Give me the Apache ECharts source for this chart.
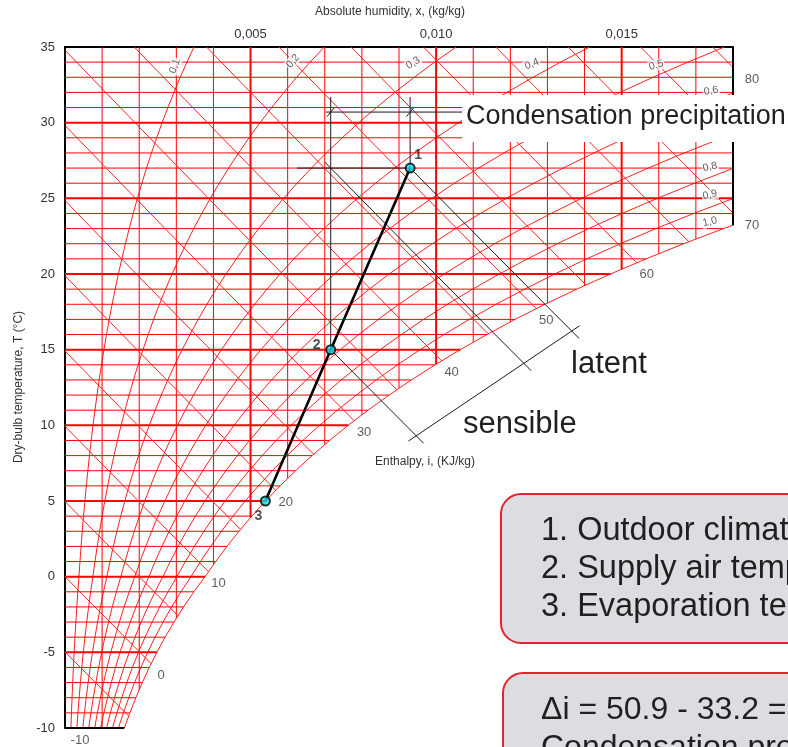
<!DOCTYPE html>
<html>
<head>
<meta charset="utf-8">
<script src="https://cdn.jsdelivr.net/npm/echarts@6/dist/echarts.min.js"></script>
<style>
  html, body { margin: 0; padding: 0; background: #fff; }
  #chart { width: 788px; height: 747px; }
</style>
</head>
<body>
<div id="chart"></div>
<script>
// ---- Psychrometric data ----------------------------------------------------
// Saturation vapour pressure (Pa) from -10 °C to 35 °C in 1 °C steps (over ice below 0 °C)
const SAT_T0 = -10;
const satPressure = [
  259.9, 284.1, 310.2, 338.3, 368.6, 401.7, 437.5, 476.2, 517.7, 562.5,
  611.2, 657.1, 705.9, 757.9, 813.5, 872.6, 935.4, 1002, 1073, 1148,
  1228, 1313, 1403, 1498, 1599, 1706, 1819, 1938, 2064, 2198,
  2339, 2488, 2645, 2810, 2985, 3169, 3363, 3567, 3782, 4008,
  4246, 4496, 4759, 5034, 5324, 5628
];
const P_ATM = 101325;

// Axis ranges and tick labels
const tempMin = -10, tempMax = 35;
const humMin = 0, humMax = 0.018;
const xTickValues = [0.005, 0.010, 0.015];
const xTickLabels = ['0,005', '0,010', '0,015'];

// Grid families
const gridTemps = [-9,-8,-7,-6,-5,-4,-3,-2,-1,0,1,2,3,4,5,6,7,8,9,10,11,12,13,14,15,16,17,18,19,20,21,22,23,24,25,26,27,28,29,30,31,32,33,34];
const gridHumidities = [0.001,0.002,0.003,0.004,0.005,0.006,0.007,0.008,0.009,0.010,0.011,0.012,0.013,0.014,0.015,0.016,0.017];
const rhLevels = [0.1, 0.2, 0.3, 0.4, 0.5, 0.6, 0.7, 0.8, 0.9];
const rhLabelLevels = [0.1, 0.2, 0.3, 0.4, 0.5, 0.6, 0.7, 0.8, 0.9, 1.0];
const rhLabelTexts = ['0,1','0,2','0,3','0,4','0,5','0,6','0,7','0,8','0,9','1,0'];
const enthalpyLevels = [-10,-5,0,5,10,15,20,25,30,35,40,45,50,55,60,65,70,75,80];
const enthalpyLabelLevels = [-10,0,10,20,30,40,50,60,70,80];

// Air treatment process: 1 outdoor, 2 supply air, 3 evaporation
const stateNames = ['1', '2', '3'];
const stateHumidity = [0.0093, 0.00716, 0.0054];
const stateTemp = [27, 15, 5];

// ---- Layout / style (positions kept apart from the data) --------------------
const RED = '#ff0000';
const RED_DIAG = '#ff2020';
const INK = '#231f20';
const FONT = '"Liberation Sans", Arial, sans-serif';
// label positions of the relative-humidity curves, in chart units, with rotation
const rhLabelPos = [
  [0.00296, 33.74, 70], [0.00614, 34.07, 48], [0.00938, 33.94, 32],
  [0.01258, 33.87, 22], [0.01593, 33.80, 16], [0.01741, 32.10, 11],
  [0.01741, 29.65, 12], [0.01738, 27.08, 12], [0.01738, 25.23, 13],
  [0.01738, 23.45, 14]
];
const stateLabelOffset = [[8, -13], [-14, -5], [-7, 15]];
// construction of the enthalpy scale (i-axis) and the dimension line
const construction = {
  scaleFrom: [0.00938, 9.17],   // anchor of the i-scale line
  scaleTo: [0.01374, 16.37],    // second anchor of the i-scale line
  scaleOverrun: 0.05,           // share of the scale length drawn past the end marks
  diagOverrun: 0.00020,         // humidity span drawn past each scale mark
  mLineLead: 0.00016,           // lead of the intermediate enthalpy line
  dimTemp: 30.7,                // dimension line for the condensed water
  dimEnd: 0.0108,
  leaderTop: 31.7,
  t1LeaderStart: 0.00625,
  tickHalf: [0.0001, 0.3]
};

// ---- Psychrometric relations ----------------------------------------------
function psat(T) {
  let i = Math.floor(T - SAT_T0);
  i = Math.max(0, Math.min(satPressure.length - 2, i));
  const f = T - (SAT_T0 + i);
  const a = Math.log(satPressure[i]), b = Math.log(satPressure[i + 1]);
  return Math.exp(a + (b - a) * f);
}
function tempFromPsat(ps) {
  const lp = Math.log(ps);
  let i = 0;
  while (i < satPressure.length - 2 && Math.log(satPressure[i + 1]) < lp) i++;
  const a = Math.log(satPressure[i]), b = Math.log(satPressure[i + 1]);
  return SAT_T0 + i + (lp - a) / (b - a);
}
function humidityAt(phi, T) {
  const pv = phi * psat(T);
  return 0.622 * pv / (P_ATM - pv);
}
function dewTemp(x) {
  return tempFromPsat(x * P_ATM / (0.622 + x));
}
function enthalpy(x, T) {
  return 1.006 * T + x * (2501 + 1.86 * T);
}
function tempOnEnthalpy(h, x) {
  return (h - 2501 * x) / (1.006 + 1.86 * x);
}
function satTempForEnthalpy(h) {
  let lo = tempMin, hi = tempMax;
  if (enthalpy(humidityAt(1, lo), lo) > h) return null;
  for (let k = 0; k < 60; k++) {
    const mid = (lo + hi) / 2;
    if (enthalpy(humidityAt(1, mid), mid) < h) lo = mid; else hi = mid;
  }
  return (lo + hi) / 2;
}
function enthalpyEnds(h) {
  const start = h / 1.006 <= tempMax
    ? [0, h / 1.006]
    : [(h - 1.006 * tempMax) / (2501 + 1.86 * tempMax), tempMax];
  const ts = satTempForEnthalpy(h);
  let end;
  if (ts === null) {
    end = [Math.max(0, (h - 1.006 * tempMin) / (2501 + 1.86 * tempMin)), tempMin];
  } else {
    end = [humidityAt(1, ts), ts];
  }
  return { start, end };
}
function enthalpyPath(h, x0, x1) {
  const pts = [];
  for (let k = 0; k <= 6; k++) {
    const x = x0 + (x1 - x0) * k / 6;
    pts.push([x, tempOnEnthalpy(h, x)]);
  }
  return pts;
}
// intersection of an enthalpy line with the straight i-scale line
function scaleMark(h) {
  const [ax, aT] = construction.scaleFrom, [bx, bT] = construction.scaleTo;
  const slope = (bT - aT) / (bx - ax);
  let lo = 0, hi = humMax;
  const f = x => tempOnEnthalpy(h, x) - (aT + slope * (x - ax));
  for (let k = 0; k < 60; k++) {
    const mid = (lo + hi) / 2;
    if (f(mid) > 0) lo = mid; else hi = mid;
  }
  const x = (lo + hi) / 2;
  return [x, aT + slope * (x - ax)];
}

// ---- Series builders -------------------------------------------------------
function lineSeries(data, color, width, z) {
  return {
    type: 'line', data, symbol: 'none', silent: true, animation: false,
    z: z || 2, color, lineStyle: { color, width, opacity: 1 }, emphasis: { disabled: true }
  };
}
const series = [];
const tableTemps = satPressure.map((_, i) => SAT_T0 + i);

// relative humidity curves and the saturation curve
rhLevels.forEach(phi => {
  series.push(lineSeries(tableTemps.map(T => [humidityAt(phi, T), T]), RED_DIAG, 1));
});
series.push(lineSeries(tableTemps.map(T => [humidityAt(1, T), T]), RED_DIAG, 1));

// isotherms
gridTemps.forEach(T => {
  const bold = T % 5 === 0;
  series.push(lineSeries([[0, T], [humidityAt(1, T), T]], RED, bold ? 2 : 1));
});
// lines of constant absolute humidity
gridHumidities.forEach(x => {
  const bold = xTickValues.some(v => Math.abs(v - x) < 1e-9);
  series.push(lineSeries([[x, dewTemp(x)], [x, tempMax]], RED, bold ? 2 : 1));
});
// enthalpy lines
enthalpyLevels.forEach(h => {
  const e = enthalpyEnds(h);
  series.push(lineSeries(enthalpyPath(h, e.start[0], e.end[0]), RED_DIAG, 1));
});

// frame on the right and at the bottom
series.push(Object.assign(lineSeries([[humMax, dewTemp(humMax)], [humMax, tempMax]], '#000', 2, 4), { clip: false }));
series.push(Object.assign(lineSeries([[0, tempMin], [humidityAt(1, tempMin), tempMin]], '#000', 2, 4), { clip: false }));

// process states
const states = stateNames.map((n, i) => [stateHumidity[i], stateTemp[i]]);
const [s1, s2, s3] = states;
const h1 = enthalpy(s1[0], s1[1]);
const h2 = enthalpy(s2[0], s2[1]);
const hM = enthalpy(s2[0], s1[1]);   // supply humidity at outdoor temperature
const markA = scaleMark(h2), markB = scaleMark(hM), markC = scaleMark(h1);

// construction lines (thin black)
const C = construction;
const scaleVec = [markC[0] - markA[0], markC[1] - markA[1]];
const scaleLine = [
  [markA[0] - scaleVec[0] * C.scaleOverrun, markA[1] - scaleVec[1] * C.scaleOverrun],
  [markC[0] + scaleVec[0] * C.scaleOverrun, markC[1] + scaleVec[1] * C.scaleOverrun]
];
const thin = (d) => lineSeries(d, '#1a1a1a', 1, 5);
series.push(thin(scaleLine));
series.push(thin(enthalpyPath(h1, s1[0], markC[0] + C.diagOverrun)));
series.push(thin(enthalpyPath(hM, s2[0] - C.mLineLead, markB[0] + C.diagOverrun)));
series.push(thin(enthalpyPath(h2, s2[0], markA[0] + C.diagOverrun)));
series.push(thin([[C.t1LeaderStart, s1[1]], s1]));
series.push(thin([[s2[0], C.leaderTop], s2]));
series.push(thin([[s1[0], C.leaderTop], s1]));
series.push(thin([[s2[0] - 0.00014, C.dimTemp], [C.dimEnd, C.dimTemp]]));
[s2[0], s1[0]].forEach(x => {
  series.push(thin([[x - C.tickHalf[0], C.dimTemp - C.tickHalf[1]], [x + C.tickHalf[0], C.dimTemp + C.tickHalf[1]]]));
});

// process line 3 -> 2 -> 1
series.push(lineSeries([s3, s2, s1], '#000', 2.6, 6));

// state points
series.push({
  type: 'scatter', z: 8, animation: false, silent: true,
  symbolSize: 9,
  itemStyle: { color: '#14dce8', borderColor: '#000', borderWidth: 2 },
  data: states.map((p, i) => ({
    value: p,
    label: {
      show: true, position: 'inside', formatter: stateNames[i],
      offset: stateLabelOffset[i], fontSize: 14, fontWeight: 'bold',
      color: INK, fontFamily: FONT
    }
  }))
});

// enthalpy value labels along the saturation curve and right edge
series.push({
  type: 'scatter', z: 9, animation: false, silent: true, clip: false,
  symbolSize: 1, itemStyle: { color: 'rgba(0,0,0,0)' },
  label: { show: true, position: 'inside', fontSize: 13, color: '#333', fontFamily: FONT },
  data: enthalpyLabelLevels.map(h => {
    const e = enthalpyEnds(h);
    let p = e.end, off = [10, 12];
    if (e.end[0] > humMax) { p = [humMax, tempOnEnthalpy(h, humMax)]; off = [19, 12]; }
    else if (satTempForEnthalpy(h) === null) { p = e.start; off = [15, 13]; }
    return { value: p, label: { formatter: String(h), offset: off } };
  })
});

// relative humidity labels
series.push({
  type: 'scatter', z: 9, animation: false, silent: true, clip: false,
  symbolSize: 1, itemStyle: { color: 'rgba(0,0,0,0)' },
  data: rhLabelLevels.map((phi, i) => ({
    value: [rhLabelPos[i][0], rhLabelPos[i][1]],
    label: {
      show: true, position: 'inside', formatter: rhLabelTexts[i],
      rotate: rhLabelPos[i][2], fontSize: 10.5, color: '#333', fontFamily: FONT,
      backgroundColor: '#fff', padding: [0, 1]
    }
  }))
});

// ---- Chart -----------------------------------------------------------------
const chart = echarts.init(document.getElementById('chart'), null, { renderer: 'canvas' });
const txt = (text, x, y, size, extra) => Object.assign({
  type: 'text', x, y, z: 100,
  style: Object.assign({ text, fill: INK, font: size + 'px ' + FONT, align: 'left', verticalAlign: 'middle' }, extra || {})
});
const boxLines1 = ['1. Outdoor climate 27 °C, 42 % RH', '2. Supply air temperature 15 °C', '3. Evaporation temperature 5 °C'];
const boxLines2 = ['\u0394i = 50.9 - 33.2 = 17.7 kJ/kg', 'Condensation precipitation = 2.1 g/kg'];

chart.setOption({
  animation: false,
  backgroundColor: '#fff',
  grid: { left: 65, top: 47, width: 668, height: 681 },
  xAxis: {
    type: 'value', position: 'top', min: humMin, max: humMax, interval: 0.005,
    axisLine: { show: true, onZero: false, lineStyle: { color: '#000', width: 2 } },
    axisTick: { show: false }, splitLine: { show: false },
    axisLabel: {
      margin: 6, fontSize: 13, color: '#333', fontFamily: FONT,
      formatter: v => {
        const i = xTickValues.findIndex(t => Math.abs(t - v) < 1e-9);
        return i < 0 ? '' : xTickLabels[i];
      }
    }
  },
  yAxis: {
    type: 'value', min: tempMin, max: tempMax, interval: 5,
    axisLine: { show: true, onZero: false, lineStyle: { color: '#000', width: 2 } },
    axisTick: { show: false }, splitLine: { show: false },
    axisLabel: { margin: 10, fontSize: 13, color: '#333', fontFamily: FONT }
  },
  series,
  graphic: [
    txt('Absolute humidity, x, (kg/kg)', 390, 12, 12, { align: 'center', fill: '#333' }),
    Object.assign(txt('Dry-bulb temperature, T (°C)', 19, 387, 12, { align: 'center', fill: '#333' }), { rotation: Math.PI / 2 }),
    txt('Enthalpy, i, (KJ/kg)', 425, 462, 12, { align: 'center', fill: '#333' }),
    { type: 'rect', z: 99, shape: { x: 462, y: 95, width: 340, height: 47 }, style: { fill: '#fff' } },
    txt('Condensation precipitation', 466, 117, 27),
    txt('latent', 571, 364, 31),
    txt('sensible', 463, 424, 31),
    { type: 'rect', z: 99, shape: { x: 501, y: 494, width: 330, height: 149, r: 20 },
      style: { fill: '#dcdde0', stroke: '#e4232b', lineWidth: 2 } },
    txt(boxLines1[0], 541, 531, 32.5),
    txt(boxLines1[1], 541, 569, 32.5),
    txt(boxLines1[2], 541, 607, 32.5),
    { type: 'rect', z: 99, shape: { x: 503, y: 673, width: 330, height: 120, r: 20 },
      style: { fill: '#dcdde0', stroke: '#e4232b', lineWidth: 2 } },
    txt(boxLines2[0], 541, 710, 32),
    txt(boxLines2[1], 541, 748, 32)
  ]
});
</script>
</body>
</html>
